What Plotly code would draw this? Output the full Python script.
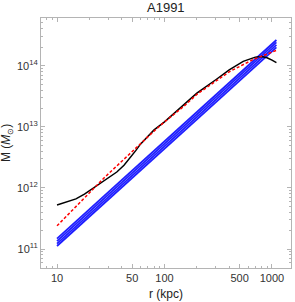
import plotly.graph_objects as go

# Data
r_black = [10, 12, 15, 18, 22.6, 27, 32, 36, 42, 48, 54, 60, 70, 80, 100, 150, 200, 300, 400, 540, 700, 800, 900, 1000, 1100]
logM_black = [11.72, 11.76, 11.82, 11.90, 12.02, 12.11, 12.20, 12.26, 12.37, 12.49, 12.61, 12.72, 12.85, 12.95, 13.08, 13.35, 13.55, 13.77, 13.93, 14.07, 14.14, 14.15, 14.13, 14.09, 14.05]

r_red = [10, 14, 18, 22.6, 28, 36, 45, 60, 80, 100, 150, 200, 300, 400, 667, 1100]
logM_red = [11.38, 11.64, 11.83, 12.02, 12.18, 12.36, 12.52, 12.74, 12.93, 13.08, 13.33, 13.53, 13.75, 13.90, 14.10, 14.25]

r_blue = [10, 1100]
logM_blue_1 = [11.05, 14.30]
logM_blue_2 = [11.09, 14.34]
logM_blue_3 = [11.13, 14.38]
logM_blue_4 = [11.17, 14.42]

x_major = [10, 50, 100, 500, 1000]
x_major_text = ["10", "50", "100", "500", "1000"]
x_minor = [8, 9, 20, 30, 40, 60, 70, 80, 90, 200, 300, 400, 600, 700, 800, 900]
y_major_exp = [11, 12, 13, 14]
y_minor_mult = [2, 3, 4, 5, 6, 7, 8, 9]

fig = go.Figure()

for lm in [logM_blue_1, logM_blue_2, logM_blue_3, logM_blue_4]:
    fig.add_trace(go.Scatter(x=r_blue, y=[10 ** v for v in lm], mode="lines",
                             line=dict(color="#1f1fff", width=1.8), showlegend=False))

fig.add_trace(go.Scatter(x=r_black, y=[10 ** v for v in logM_black], mode="lines",
                         line=dict(color="black", width=1.5), showlegend=False))
fig.add_trace(go.Scatter(x=r_red, y=[10 ** v for v in logM_red], mode="lines",
                         line=dict(color="red", width=1.5, dash="3px,2px"),
                         showlegend=False))

y_major = [10 ** e for e in y_major_exp]
y_major_text = ["10<sup>%d</sup>" % e for e in y_major_exp]
y_minor = [m * 10 ** e for e in [10, 11, 12, 13, 14] for m in y_minor_mult]

frame = "#b4b4b4"
FONT = "Liberation Sans, Arial"
tickfont = dict(family=FONT, size=11, color="#333333")

fig.update_layout(
    template="none",
    width=295, height=302,
    margin=dict(l=41, r=4, t=18, b=34),
    paper_bgcolor="white", plot_bgcolor="white",
    showlegend=False,
    xaxis=dict(type="log", range=[0.851, 3.177], tickvals=x_major, ticktext=x_major_text,
               ticks="inside", ticklen=4, tickcolor=frame, showline=True, linecolor=frame,
               linewidth=1, mirror="ticks", showgrid=False, zeroline=False, tickfont=tickfont,
               automargin=False,
               minor=dict(tickvals=x_minor, ticks="inside", ticklen=2, tickcolor=frame,
                          showgrid=False)),
    yaxis=dict(type="log", range=[10.69, 14.78], tickvals=y_major, ticktext=y_major_text,
               ticks="inside", ticklen=4, tickcolor=frame, showline=True, linecolor=frame,
               linewidth=1, mirror="ticks", showgrid=False, zeroline=False, tickfont=tickfont,
               automargin=False,
               minor=dict(tickvals=y_minor, ticks="inside", ticklen=2, tickcolor=frame,
                          showgrid=False)),
    annotations=[
        dict(text="A1991", x=0.5, y=1, xref="paper", yref="paper", xanchor="center",
             yanchor="bottom", yshift=1, showarrow=False,
             font=dict(family=FONT, size=13, color="#222")),
        dict(text="r (kpc)", x=0.5, y=0, xref="paper", yref="paper", xanchor="center",
             yanchor="top", yshift=-17, showarrow=False,
             font=dict(family=FONT, size=12, color="#222")),
        dict(text="M (<i>M</i><sub>⊙</sub>)", x=0, y=0.5, xref="paper", yref="paper",
             xanchor="center", yanchor="middle", xshift=-34, textangle=-90, showarrow=False,
             font=dict(family=FONT, size=12, color="#222")),
    ],
)

fig.write_html("out.html", config={"displayModeBar": False},
               post_script="document.body.style.margin='0';document.body.style.overflow='hidden';")
